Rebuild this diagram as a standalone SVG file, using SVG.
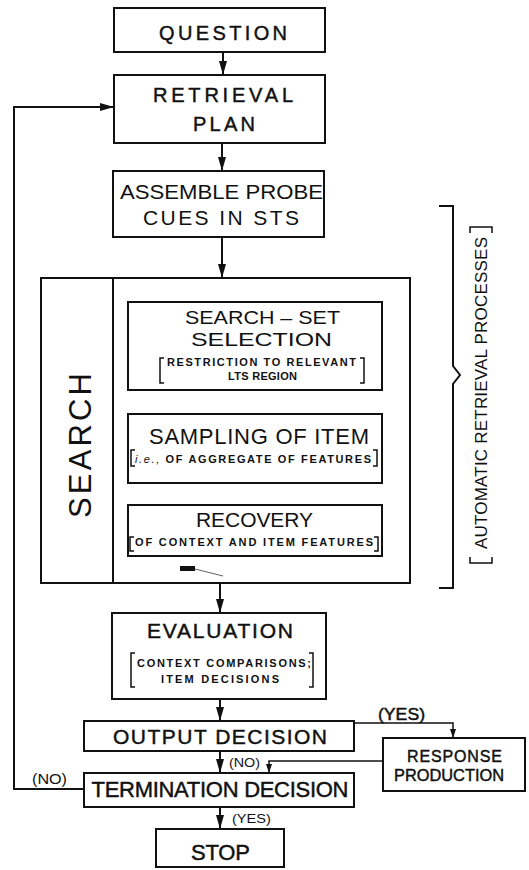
<svg xmlns="http://www.w3.org/2000/svg" width="529" height="870" viewBox="0 0 529 870">
  <style>
    .box { fill: #fff; stroke: #111; stroke-width: 2; }
    .ln { fill: none; stroke: #111; stroke-width: 2; }
    .thin { fill: none; stroke: #111; stroke-width: 1.5; }
    .t { font-family: "Liberation Sans", Arial, sans-serif; fill: #111; text-anchor: middle; }
    .hv { stroke: #111; stroke-width: 0.45; }
    .big { font-size: 21px; }
    .sm { font-size: 11px; font-weight: bold; }
  </style>
  <defs>
    <marker id="ah" viewBox="0 0 14 8" markerUnits="userSpaceOnUse" markerWidth="14" markerHeight="8" refX="14" refY="4" orient="auto">
      <path d="M0,0 L14,4 L0,8 Z" fill="#111"/>
    </marker>
    <marker id="ahs" viewBox="0 0 9 6" markerUnits="userSpaceOnUse" markerWidth="9" markerHeight="6" refX="9" refY="3" orient="auto">
      <path d="M0,0 L9,3 L0,6 Z" fill="#111"/>
    </marker>
  </defs>
  <rect width="529" height="870" fill="#fff"/>

  <!-- connectors -->
  <g id="connectors">
    <line class="ln" x1="223" y1="52" x2="223" y2="75" marker-end="url(#ah)"/>
    <line class="ln" x1="222" y1="143" x2="222" y2="171" marker-end="url(#ah)"/>
    <line class="ln" x1="222" y1="237" x2="222" y2="278" marker-end="url(#ah)"/>
    <line class="ln" x1="258" y1="390" x2="258" y2="414" marker-end="url(#ah)"/>
    <line class="ln" x1="258" y1="483" x2="258" y2="505" marker-end="url(#ah)"/>
    <line class="ln" x1="220" y1="583" x2="220" y2="613" marker-end="url(#ah)"/>
    <line class="ln" x1="220" y1="699" x2="220" y2="721" marker-end="url(#ah)"/>
    <line class="ln" x1="220" y1="751" x2="220" y2="773" marker-end="url(#ah)"/>
    <line class="ln" x1="220" y1="807" x2="220" y2="829" marker-end="url(#ah)"/>
    <path class="thin" d="M354,723 H453 V738" marker-end="url(#ahs)"/>
    <path class="thin" d="M383,761 H269 V773" marker-end="url(#ahs)"/>
    <path class="ln" d="M84,789 H14 V107 H114" marker-end="url(#ah)"/>
    <text class="t hv" x="401.5" y="720" font-size="16" textLength="47" lengthAdjust="spacingAndGlyphs">(YES)</text>
    <text class="t" x="244.5" y="767" font-size="13" textLength="31" lengthAdjust="spacingAndGlyphs">(NO)</text>
    <text class="t" x="49.5" y="784" font-size="15" textLength="35" lengthAdjust="spacingAndGlyphs">(NO)</text>
    <text class="t" x="251.5" y="823" font-size="13.5" textLength="39" lengthAdjust="spacingAndGlyphs">(YES)</text>
  </g>

  <g id="question">
    <rect class="box" x="114" y="8" width="211" height="44"/>
    <text class="t hv" x="223" y="40" font-size="20" textLength="128" lengthAdjust="spacing">QUESTION</text>
  </g>

  <g id="retrieval-plan">
    <rect class="box" x="114" y="75" width="211" height="68"/>
    <text class="t hv" x="223" y="102" font-size="20" textLength="140" lengthAdjust="spacing">RETRIEVAL</text>
    <text class="t hv" x="224" y="131" font-size="20" textLength="62" lengthAdjust="spacing">PLAN</text>
  </g>

  <g id="assemble">
    <rect class="box" x="113" y="171" width="211" height="66"/>
    <text class="t big" x="221.5" y="199" textLength="203" lengthAdjust="spacingAndGlyphs">ASSEMBLE PROBE</text>
    <text class="t big" x="221" y="225" textLength="156" lengthAdjust="spacing">CUES IN STS</text>
  </g>

  <g id="search">
    <rect class="box" x="41" y="278" width="369" height="305"/>
    <line class="ln" x1="113" y1="278" x2="113" y2="583"/>
    <text class="t" transform="translate(91,445.5) rotate(-90)" x="0" y="0" font-size="31" textLength="145" lengthAdjust="spacing">SEARCH</text>
    <!-- pen mark below the recovery box -->
    <rect x="180" y="566" width="15" height="5" fill="#111"/>
    <line x1="195" y1="569" x2="223" y2="576" stroke="#333" stroke-width="0.8"/>
  </g>

  <g id="search-set-selection">
    <rect class="box" x="128" y="302" width="254" height="88"/>
    <text class="t" x="262.5" y="324" font-size="19" textLength="155" lengthAdjust="spacingAndGlyphs">SEARCH – SET</text>
    <text class="t" x="261.5" y="345.5" font-size="19" textLength="141" lengthAdjust="spacingAndGlyphs">SELECTION</text>
    <path class="thin" d="M164,358 H160 V383 H164 M360,358 H364 V383 H360"/>
    <text class="t sm" x="261.5" y="366" textLength="189" lengthAdjust="spacing">RESTRICTION TO RELEVANT</text>
    <text class="t sm" x="262.5" y="380" textLength="69" lengthAdjust="spacing">LTS REGION</text>
  </g>

  <g id="sampling">
    <rect class="box" x="128" y="414" width="254" height="69"/>
    <text class="t" x="259" y="443.5" font-size="22" textLength="220" lengthAdjust="spacing">SAMPLING OF ITEM</text>
    <path class="thin" d="M135,450 H131 V466 H135 M373,450 H377 V466 H373"/>
    <text class="t sm" x="253" y="463" textLength="236" lengthAdjust="spacing"><tspan font-style="italic" font-weight="normal">i.e.,</tspan> OF AGGREGATE OF FEATURES</text>
  </g>

  <g id="recovery">
    <rect class="box" x="128" y="505" width="254" height="51"/>
    <text class="t big" x="254.5" y="527" textLength="117" lengthAdjust="spacing">RECOVERY</text>
    <path class="thin" d="M134,537 H130 V551 H134 M374,537 H378 V551 H374"/>
    <text class="t sm" x="254" y="546" textLength="238" lengthAdjust="spacing">OF CONTEXT AND ITEM FEATURES</text>
  </g>

  <g id="automatic-retrieval">
    <path class="ln" d="M439,206 H453 V366 L460,375 L453,384 V588 H439"/>
    <path class="thin" d="M470,557 V563 H492 V557 M470,233 V227 H492 V233"/>
    <text class="t" transform="translate(487,393) rotate(-90)" x="0" y="0" font-size="17" textLength="312" lengthAdjust="spacing">AUTOMATIC RETRIEVAL PROCESSES</text>
  </g>

  <g id="evaluation">
    <rect class="box" x="112" y="613" width="214" height="86"/>
    <text class="t big hv" x="220" y="638" textLength="146" lengthAdjust="spacing">EVALUATION</text>
    <path class="thin" d="M135,653 H131 V687 H135 M309,653 H313 V687 H309"/>
    <text class="t sm" x="224" y="667" font-size="11.5" textLength="174" lengthAdjust="spacing">CONTEXT COMPARISONS;</text>
    <text class="t sm" x="220" y="683" font-size="11.5" textLength="118" lengthAdjust="spacing">ITEM DECISIONS</text>
  </g>

  <g id="output-decision">
    <rect class="box" x="84" y="721" width="270" height="30"/>
    <text class="t big hv" x="220" y="743.5" textLength="214" lengthAdjust="spacing">OUTPUT DECISION</text>
  </g>

  <g id="response-production">
    <rect class="box" x="383" y="738" width="142" height="53"/>
    <text class="t hv" x="454.5" y="762" font-size="16" textLength="95" lengthAdjust="spacing">RESPONSE</text>
    <text class="t hv" x="449" y="781" font-size="16" textLength="110" lengthAdjust="spacingAndGlyphs">PRODUCTION</text>
  </g>

  <g id="termination-decision">
    <rect class="box" x="84" y="773" width="270" height="34"/>
    <text class="t hv" x="220" y="797" font-size="22" textLength="257" lengthAdjust="spacing">TERMINATION DECISION</text>
  </g>

  <g id="stop">
    <rect class="box" x="156" y="829" width="128" height="38"/>
    <text class="t hv" x="220.5" y="860" font-size="22" textLength="59" lengthAdjust="spacing">STOP</text>
  </g>
</svg>
